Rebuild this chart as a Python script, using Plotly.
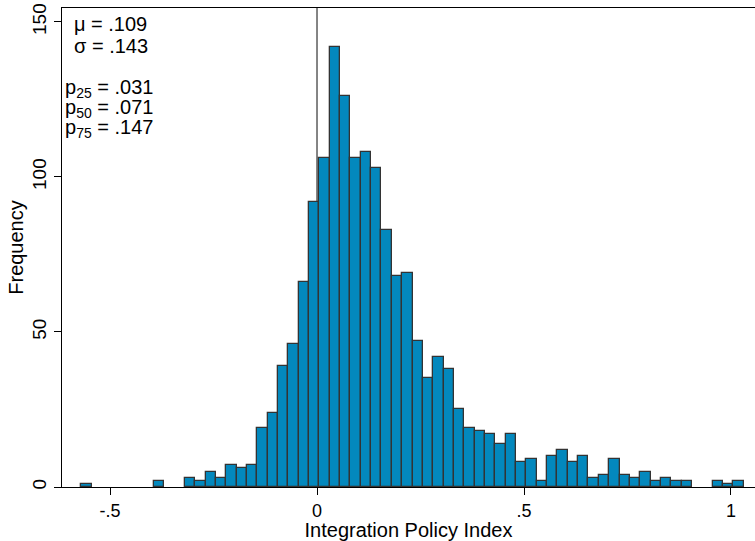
import plotly.graph_objects as go

# ---- data ----
bin_start = -0.5693
bin_width = 0.025
counts = [1, 0, 0, 0, 0, 0, 0, 2, 0, 0,
          3, 2, 5, 3, 7, 6, 7, 19, 24, 39, 46, 66,
          92, 106, 142, 126, 106, 108, 103, 83, 68, 69,
          47, 35, 42, 38, 25, 19, 18, 17, 14, 17,
          8, 9, 2, 10, 12, 8, 10, 3, 4, 9,
          4, 3, 5, 2, 3, 2, 2, 0, 0, 2,
          1, 2]
x_tick_vals = [-0.5, 0, 0.5, 1]
x_tick_text = ["-.5", "0", ".5", "1"]
y_tick_vals = [0, 50, 100, 150]
y_tick_text = ["0", "50", "100", "150"]
stats_top = ["μ = .109", "σ = .143"]
stats_pct = ["p<sub>25</sub> = .031", "p<sub>50</sub> = .071", "p<sub>75</sub> = .147"]

centers = [bin_start + (i + 0.5) * bin_width for i in range(len(counts))]
xs = [c for c, n in zip(centers, counts) if n > 0]
ys = [n for n in counts if n > 0]

W, H = 755, 541
ML, MR, MT, MB = 62, 0, 8, 54
PW, PH = W - ML - MR, H - MT - MB

def px(xp):
    return (xp - ML) / PW

def py(yp):
    return (H - MB - yp) / PH

fig = go.Figure()
fig.add_trace(go.Bar(
    x=xs, y=ys, width=bin_width,
    marker=dict(color="#0388bd", line=dict(color="#333333", width=1.3)),
    hoverinfo="skip",
))

fig.add_shape(type="line", xref="x", yref="paper", x0=0, x1=0, y0=0, y1=1,
              line=dict(color="#333333", width=1.2), layer="below")

font_family = "Liberation Sans, Arial, Helvetica, sans-serif"
annos = []
for txt, ypix in zip(stats_top, [24.5, 45.5]):
    annos.append(dict(text=txt, xref="paper", yref="paper", x=px(72), y=py(ypix),
                      xanchor="left", yanchor="middle", showarrow=False,
                      font=dict(size=20, color="black", family=font_family)))
for txt, ypix in zip(stats_pct, [88.5, 108.5, 128.5]):
    annos.append(dict(text=txt, xref="paper", yref="paper", x=px(63), y=py(ypix),
                      xanchor="left", yanchor="middle", showarrow=False,
                      font=dict(size=20, color="black", family=font_family)))

fig.update_layout(
    width=W, height=H,
    margin=dict(l=ML, r=MR, t=MT, b=MB, pad=0),
    plot_bgcolor="white", paper_bgcolor="white",
    bargap=0, showlegend=False,
    font=dict(family=font_family, size=19, color="black"),
    annotations=annos,
    xaxis=dict(
        range=[-0.616, 1.058],
        tickvals=x_tick_vals, ticktext=x_tick_text,
        ticks="outside", ticklen=7, tickwidth=1.3, tickcolor="black",
        showline=True, linecolor="black", linewidth=1.3, mirror=True,
        showgrid=False, zeroline=False,
        tickfont=dict(size=18),
        title=dict(text="Integration Policy Index", standoff=6, font=dict(size=20)),
    ),
    yaxis=dict(
        range=[0, 154.5],
        tickvals=y_tick_vals, ticktext=y_tick_text, tickangle=-90,
        ticks="outside", ticklen=7, tickwidth=1.3, tickcolor="black",
        showline=True, linecolor="black", linewidth=1.3,
        showgrid=False, zeroline=False,
        title=dict(text="Frequency", standoff=0, font=dict(size=20)),
    ),
)

fig.write_html("out.html")
